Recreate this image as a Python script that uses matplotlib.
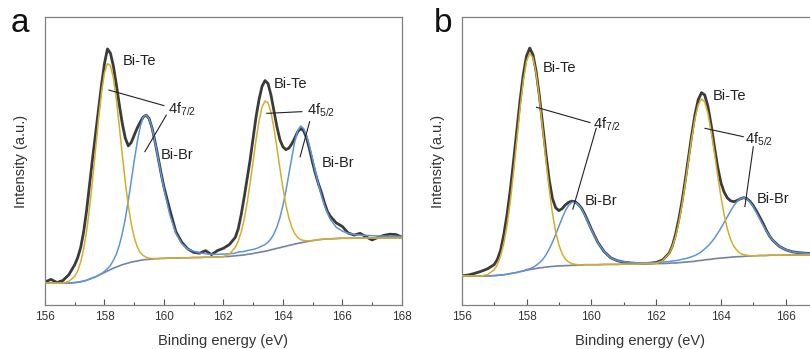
import matplotlib
matplotlib.use("Agg")
import matplotlib.pyplot as plt
from matplotlib.ticker import MultipleLocator

plt.rcParams["font.family"] = ["Liberation Sans", "DejaVu Sans"]
plt.rcParams["mathtext.default"] = "regular"

# ── data (binding energy in eV, intensity in a.u.) ──
energy = [156.0, 156.2, 156.4, 156.6, 156.8,
          157.0, 157.1, 157.2, 157.3, 157.4, 157.5, 157.6, 157.7, 157.8, 157.9,
          158.0, 158.1, 158.2, 158.3, 158.4, 158.5, 158.6, 158.7, 158.8, 158.9,
          159.0, 159.1, 159.2, 159.3, 159.4, 159.5, 159.6, 159.7, 159.8, 159.9, 160.0,
          160.2, 160.4, 160.6, 160.8, 161.0, 161.2, 161.4, 161.6, 161.8, 162.0, 162.2, 162.4,
          162.5, 162.6, 162.7, 162.8, 162.9, 163.0, 163.1, 163.2, 163.3, 163.4,
          163.5, 163.6, 163.7, 163.8, 163.9, 164.0, 164.1, 164.2, 164.3, 164.4,
          164.5, 164.6, 164.7, 164.8, 164.9, 165.0, 165.1, 165.2, 165.3, 165.4, 165.5, 165.6,
          165.8, 166.0, 166.2, 166.4, 166.6, 166.8, 167.0, 167.2, 167.4, 167.6, 167.8, 168.0]

# panel a
measured_a = [8.0, 8.9, 7.8, 8.5, 10.5,
              14.0, 16.5, 20.0, 25.5, 33.0, 42.0, 51.0, 59.5, 68.0, 76.5,
              84.0, 89.0, 87.5, 83.0, 76.5, 69.5, 63.0, 58.0, 55.3, 56.5,
              59.0, 61.5, 63.5, 65.3, 66.0, 64.8, 61.5, 56.8, 51.5, 46.0, 41.0,
              33.0, 25.5, 21.8, 19.5, 18.3, 18.0, 18.9, 17.5, 18.9, 19.7, 21.0, 23.5,
              26.5, 31.5, 37.5, 44.0, 50.5, 58.0, 65.5, 71.5, 76.0, 78.0,
              77.0, 73.0, 67.5, 62.0, 57.5, 55.0, 54.0, 54.5, 56.0, 58.0,
              60.2, 61.4, 60.5, 58.0, 54.0, 49.5, 45.5, 42.0, 39.0, 35.5, 32.5, 30.8,
              28.5, 27.3, 25.0, 24.3, 24.9, 23.7, 22.6, 23.5, 24.2, 24.6, 24.5, 23.6]
bi_te_a = [7.6, 7.6, 7.6, 7.6, 8.2,
           10.0, 11.9, 15.0, 19.5, 25.8, 33.9, 43.5, 54.1, 64.6, 73.9,
           80.7, 83.9, 83.2, 78.8, 71.3, 62.0, 52.1, 42.7, 34.6, 28.3,
           23.5, 20.3, 18.3, 17.2, 16.6, 16.3, 16.2, 16.1, 16.1, 16.2, 16.2,
           16.3, 16.3, 16.4, 16.4, 16.5, 16.5, 16.6, 16.6, 16.7, 16.8, 17.7, 20.0,
           22.2, 25.4, 29.8, 35.6, 42.4, 50.0, 57.5, 64.0, 68.8, 70.9,
           70.3, 67.0, 61.5, 54.7, 47.5, 40.8, 34.9, 30.4, 27.0, 24.8,
           23.5, 22.7, 22.4, 22.3, 22.3, 22.4, 22.5, 22.7, 22.8, 22.9, 23.0, 23.0,
           23.1, 23.2, 23.2, 23.2, 23.3, 23.3, 23.3, 23.3, 23.3, 23.3, 23.3, 23.3]
bi_br_a = [7.6, 7.6, 7.6, 7.6, 7.6,
           7.8, 7.9, 8.1, 8.3, 8.6, 9.0, 9.4, 9.8, 10.4, 10.9,
           11.7, 12.6, 13.8, 15.5, 17.7, 20.8, 24.9, 30.0, 36.2, 43.1,
           50.1, 56.6, 61.9, 65.2, 66.1, 64.7, 61.4, 56.7, 51.3, 45.7, 40.3,
           31.2, 24.9, 21.3, 19.4, 18.7, 18.1, 17.8, 17.6, 17.6, 17.7, 17.8, 18.0,
           18.4, 18.5, 18.6, 18.9, 19.1, 19.3, 19.6, 20.0, 20.5, 21.0,
           21.8, 23.0, 24.7, 27.1, 30.3, 34.5, 39.5, 45.3, 51.2, 56.7,
           60.6, 62.2, 61.3, 58.8, 55.0, 50.7, 46.1, 41.8, 37.9, 34.6, 31.9, 29.7,
           27.0, 25.7, 24.9, 24.5, 24.3, 24.2, 24.1, 24.0, 23.9, 23.9, 23.9, 23.8]
background_a = [7.6, 7.6, 7.6, 7.6, 7.6,
                7.8, 7.9, 8.1, 8.3, 8.6, 9.0, 9.4, 9.8, 10.3, 10.8,
                11.3, 11.8, 12.3, 12.8, 13.2, 13.6, 14.0, 14.3, 14.6, 14.9,
                15.1, 15.3, 15.5, 15.7, 15.8, 15.9, 16.0, 16.1, 16.1, 16.2, 16.2,
                16.3, 16.3, 16.4, 16.4, 16.5, 16.5, 16.6, 16.6, 16.7, 16.8, 16.9, 17.1,
                17.2, 17.3, 17.4, 17.6, 17.7, 17.9, 18.1, 18.3, 18.5, 18.7,
                18.9, 19.2, 19.4, 19.7, 19.9, 20.2, 20.4, 20.7, 20.9, 21.2,
                21.4, 21.6, 21.8, 22.0, 22.2, 22.4, 22.5, 22.7, 22.8, 22.9, 23.0, 23.0,
                23.1, 23.2, 23.2, 23.2, 23.3, 23.3, 23.3, 23.3, 23.3, 23.3, 23.3, 23.3]

# panel b
measured_b = [10.1, 10.4, 11.0, 11.7, 12.6,
              14.0, 15.8, 19.0, 24.5, 31.5, 40.0, 50.0, 60.5, 71.0, 80.0,
              86.5, 89.3, 87.0, 81.0, 72.5, 62.5, 52.5, 43.5, 37.0, 33.8,
              32.8, 33.5, 34.8, 35.7, 36.1, 35.9, 35.0, 33.6, 31.5, 29.0, 26.4,
              21.8, 18.5, 16.4, 15.4, 14.9, 14.6, 14.4, 14.4, 14.5, 14.8, 15.6, 18.0,
              20.5, 24.5, 29.8, 36.0, 43.4, 51.3, 59.2, 66.2, 71.3, 73.8,
              73.0, 69.0, 62.5, 55.0, 48.0, 42.5, 39.2, 37.2, 36.2, 35.9,
              36.3, 36.9, 37.3, 37.0, 36.0, 34.5, 32.6, 30.5, 28.4, 26.0, 24.0, 22.5,
              20.4, 19.2, 18.5, 18.2, 18.0, 17.9, 17.8, 17.8, 17.7, 17.7, 17.7, 17.7]
bi_te_b = [10.1, 10.1, 10.1, 10.1, 10.6,
           12.2, 14.0, 17.0, 21.4, 27.7, 36.0, 46.0, 57.1, 68.3, 77.8,
           84.7, 87.5, 85.9, 80.3, 71.6, 61.0, 50.3, 40.3, 31.9, 25.5,
           20.9, 17.8, 16.0, 14.9, 14.4, 14.1, 14.0, 13.9, 14.0, 14.0, 14.0,
           14.0, 14.1, 14.1, 14.1, 14.2, 14.2, 14.2, 14.3, 14.3, 14.4, 15.4, 17.8,
           20.2, 23.7, 28.6, 34.8, 42.2, 50.2, 58.1, 64.8, 69.6, 71.6,
           70.6, 66.6, 60.3, 52.9, 45.0, 37.7, 31.4, 26.4, 22.8, 20.4,
           18.9, 17.9, 17.5, 17.3, 17.1, 17.1, 17.1, 17.2, 17.2, 17.2, 17.3, 17.3,
           17.3, 17.4, 17.4, 17.4, 17.4, 17.4, 17.4, 17.4, 17.4, 17.4, 17.4, 17.4]
bi_br_b = [10.1, 10.1, 10.1, 10.1, 10.1,
           10.2, 10.3, 10.4, 10.5, 10.7, 10.9, 11.1, 11.3, 11.6, 11.8,
           12.3, 12.6, 13.1, 13.8, 14.7, 15.8, 17.4, 19.4, 21.8, 24.5,
           27.4, 30.2, 32.8, 34.6, 35.7, 35.7, 34.9, 33.3, 31.2, 28.7, 26.2,
           21.7, 18.5, 16.4, 15.4, 15.0, 14.8, 14.7, 14.7, 14.7, 14.8, 14.9, 15.1,
           15.3, 15.4, 15.6, 15.9, 16.1, 16.4, 16.8, 17.2, 17.8, 18.5,
           19.5, 20.5, 21.7, 23.2, 24.9, 26.7, 28.7, 30.7, 32.7, 34.5,
           36.0, 36.9, 37.3, 36.9, 35.7, 34.1, 32.0, 29.9, 27.7, 25.7, 24.0, 22.5,
           20.4, 19.2, 18.5, 18.2, 18.0, 17.9, 17.8, 17.7, 17.7, 17.6, 17.6, 17.6]
background_b = [10.1, 10.1, 10.1, 10.1, 10.1,
                10.2, 10.3, 10.4, 10.5, 10.7, 10.9, 11.1, 11.3, 11.6, 11.8,
                12.1, 12.3, 12.5, 12.7, 12.9, 13.0, 13.2, 13.3, 13.4, 13.5,
                13.6, 13.6, 13.7, 13.7, 13.8, 13.8, 13.9, 13.9, 14.0, 14.0, 14.0,
                14.0, 14.1, 14.1, 14.1, 14.2, 14.2, 14.2, 14.3, 14.3, 14.4, 14.4, 14.5,
                14.6, 14.6, 14.7, 14.8, 14.9, 15.0, 15.1, 15.2, 15.4, 15.5,
                15.7, 15.8, 15.9, 16.1, 16.2, 16.3, 16.4, 16.5, 16.6, 16.7,
                16.8, 16.8, 16.9, 17.0, 17.0, 17.1, 17.1, 17.2, 17.2, 17.2, 17.3, 17.3,
                17.3, 17.4, 17.4, 17.4, 17.4, 17.4, 17.4, 17.4, 17.4, 17.4, 17.4, 17.4]

# annotations: (text, x, y baseline)
labels_a = [("Bi-Te", 158.62, 83.4), ("4f$_{7/2}$", 160.12, 66.4), ("Bi-Br", 159.90, 50.6),
            ("Bi-Te", 163.68, 75.3), ("4f$_{5/2}$", 164.80, 66.3), ("Bi-Br", 165.31, 48.1)]
leaders_a = [((158.15, 74.7), (160.00, 69.3)), ((160.08, 66.0), (159.36, 53.3)),
             ((163.46, 66.6), (164.64, 67.2)), ((164.90, 63.7), (164.58, 51.5))]
labels_b = [("Bi-Te", 158.50, 81.1), ("4f$_{7/2}$", 160.04, 61.4), ("Bi-Br", 159.81, 34.8),
            ("Bi-Te", 163.75, 71.3), ("4f$_{5/2}$", 164.74, 56.2), ("Bi-Br", 165.10, 35.6)]
leaders_b = [((158.31, 68.7), (159.96, 63.4)), ((160.15, 61.4), (159.43, 33.3)),
             ((163.51, 61.4), (164.69, 58.5)), ((165.00, 55.0), (164.74, 34.2))]

C_MEAS = "#3b3b3b"
C_TE = "#d6ad2b"
C_BR = "#5f94d8"
C_BG = "#7482a6"


def draw_panel(ax, meas, te, br, bg, labels, leaders, xmax):
    ax.plot(energy, meas, color=C_MEAS, lw=2.0, zorder=2, solid_joinstyle="round")
    ax.plot(energy, bg, color=C_BG, lw=1.2, zorder=3)
    ax.plot(energy, br, color=C_BR, lw=1.1, zorder=4)
    ax.plot(energy, te, color=C_TE, lw=1.1, zorder=5)

    for txt, x, y in labels:
        ax.text(x, y, txt, fontsize=10.5, color="#222222", ha="left", va="baseline", zorder=6)
    for (x0, y0), (x1, y1) in leaders:
        ax.plot([x0, x1], [y0, y1], color="#222222", lw=0.8, zorder=6)

    ax.set_xlim(156, xmax)
    ax.set_ylim(0, 100)
    ax.xaxis.set_major_locator(MultipleLocator(2))
    ax.xaxis.set_minor_locator(MultipleLocator(1))
    ax.set_yticks([])
    ax.tick_params(axis="x", which="major", direction="in", length=4, width=0.8,
                   labelsize=8.5, labelcolor="#333333", color="#555555", pad=4)
    ax.tick_params(axis="x", which="minor", direction="in", length=2.5, width=0.8,
                   color="#555555")
    for sp in ax.spines.values():
        sp.set_edgecolor("#808080")
        sp.set_linewidth(0.9)
    ax.set_xlabel("Binding energy (eV)", fontsize=10.5, color="#333333", labelpad=8)
    ax.set_ylabel("Intensity (a.u.)", fontsize=10.5, color="#333333", labelpad=12)


fig = plt.figure(figsize=(8.1, 3.49), dpi=100, facecolor="white")
ax_a = fig.add_axes([0.0556, 0.1261, 0.4404, 0.8244])
ax_b = fig.add_axes([0.5700, 0.1261, 0.4400, 0.8244])

draw_panel(ax_a, measured_a, bi_te_a, bi_br_a, background_a, labels_a, leaders_a, 168)
draw_panel(ax_b, measured_b, bi_te_b, bi_br_b, background_b, labels_b, leaders_b, 167)

fig.text(20 / 810, 1 - 24 / 349, "a", fontsize=24, ha="center", va="center", color="#111111")
fig.text(443 / 810, 1 - 24 / 349, "b", fontsize=24, ha="center", va="center", color="#111111")

fig.savefig("out.png", dpi=100, facecolor="white")
